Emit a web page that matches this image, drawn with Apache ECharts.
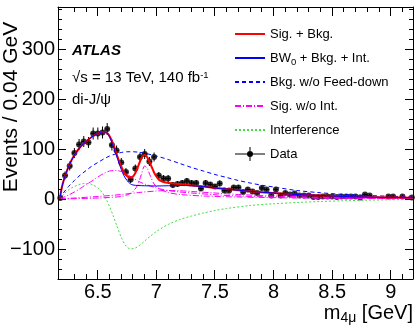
<!DOCTYPE html>
<html><head><meta charset="utf-8">
<script src="https://cdn.jsdelivr.net/npm/echarts@6/dist/echarts.min.js"></script>
<style>html,body{margin:0;padding:0;background:#fff}#c{width:420px;height:330px}</style>
</head><body><div id="c"></div>
<script>
// ---------------- data ----------------
const dataX = [6.18,6.22,6.26,6.30,6.34,6.38,6.42,6.46,6.50,6.54,6.58,6.62,6.66,6.70,6.74,6.78,6.82,6.86,6.90,6.94,
  6.98,7.02,7.06,7.10,7.14,7.18,7.22,7.26,7.30,7.34,7.38,7.42,7.46,7.50,7.54,7.58,7.62,7.66,7.70,7.74,
  7.78,7.82,7.86,7.90,7.94,7.98,8.02,8.06,8.10,8.14,8.18,8.22,8.26,8.30,8.34,8.38,8.42,8.46,8.50,8.54,
  8.58,8.62,8.66,8.70,8.74,8.78,8.82,8.86,8.90,8.94,8.98,9.02,9.06,9.10,9.14,9.18];
const dataY = [2,47,66,92,109,115,113,131,131,133,140,108,97,73,54,39,61,84,90,75,
  84,47,41,41,28,30,32,36,32,32,21,32,29,25,31,17,17,23,23,14,
  19,15,12,22,19,7,19,7,12,9,11,7,7,7,4,4,5,5,5,4,
  5,5,5,5,3,9,7,null,null,null,5,5,null,5,null,3];
const dataErr = [3,8,9,10,11,11,11,12,12,12,12,11,10,9,8,7,8,9,10,9,
  9,7,7,7,6,6,6,6,6,6,5,6,5,5,6,4,4,5,5,4,
  4,4,4,5,4,3,4,3,4,3,3,3,3,3,3,3,3,3,3,3,
  3,3,3,3,2,3,3,null,null,null,3,3,null,3,null,2];
const binHalfWidth = 0.02;

const sigBkgX = [6.175,6.19,6.20,6.22,6.26,6.30,6.34,6.38,6.42,6.46,6.50,6.54,6.56,6.58,6.60,6.62,6.64,6.66,6.68,6.70,
  6.72,6.74,6.76,6.78,6.80,6.82,6.84,6.86,6.88,6.90,6.92,6.94,6.96,6.98,7.00,7.02,7.04,7.08,7.14,7.20,
  7.30,7.40,7.50,7.60,7.70,7.80,7.90,8.00,8.20,8.40,8.60,8.80,9.00,9.19];
const sigBkgY = [0,20,30,46,70,88,101,111,119,126,131,134,134,132,126,116,104,90,77,65,
  55,48,44,43,45,52,63,75,85,88,84,75,64,53,45,39,36,33,31,30,
  27,25,22,20,17.5,15.5,13.5,12,9,7,5,4,3,2.5];

const bw0X = [6.175,6.19,6.20,6.22,6.26,6.30,6.34,6.38,6.42,6.46,6.50,6.54,6.56,6.58,6.60,6.62,6.64,6.66,6.68,6.70,
  6.72,6.74,6.76,6.78,6.80,6.84,6.90,7.00,7.10,7.20,7.30,7.40,7.50,7.60,7.70,7.80,7.90,8.00,8.20,8.40,
  8.60,8.80,9.00,9.19];
const bw0Y = [0,20,30,46,70,88,101,111,119,126,131,134,134,131,124,113,100,86,72,59,
  48,40,34,30,28,27,26.5,26,26.5,27,26.5,25,22,20,17.5,15.5,13.5,12,9,7,
  5,4,3,2.5];

const bkgX = [6.175,6.20,6.25,6.30,6.35,6.40,6.45,6.50,6.55,6.60,6.65,6.70,6.75,6.80,6.85,6.90,7.00,7.10,7.20,7.30,
  7.40,7.50,7.60,7.70,7.80,7.90,8.00,8.20,8.40,8.60,8.80,9.00,9.19];
const bkgY = [0,10,25,37,48,57,66,73,80,86,90,93,94.5,94.5,93.5,91.5,86,79,71,63,
  56,49,43,37,32,27.5,24,17,12.5,9,7,5.5,4.5];

const sig0X = [6.175,6.25,6.30,6.35,6.40,6.45,6.50,6.55,6.60,6.65,6.70,6.75,6.80,6.85,6.90,7.00,7.10,7.20,7.30,7.50,7.70,8.00,8.50,9.19];
const sig0Y = [0,8,14,21,29,36,44,51,56,57,55,49,42,35,30,22,17,14,12,8.5,6,4,2,1];
const sig1X = [6.175,6.50,6.70,6.76,6.80,6.84,6.87,6.90,6.92,6.95,6.98,7.02,7.10,7.20,7.40,7.70,8.20,9.19];
const sig1Y = [0,2,5,9,15,28,48,66,62,45,30,21,13,9,6,4,2,1];
const sig2X = [6.175,6.30,6.50,6.70,6.85,7.00,7.10,7.20,7.30,7.50,7.70,8.00,8.50,9.19];
const sig2Y = [0,2,5,9,13,16,17,16.5,15,12,9,6,3,1.5];

const intX = [6.175,6.22,6.26,6.30,6.34,6.38,6.42,6.46,6.50,6.54,6.57,6.60,6.63,6.66,6.70,6.74,6.78,6.82,6.86,6.90,
  6.95,7.00,7.10,7.20,7.30,7.40,7.50,7.60,7.80,8.00,8.20,8.40,8.60,8.80,9.00,9.19];
const intY = [0,12,20,25,29,31,31,28,22,12,0,-15,-33,-52,-77,-94,-100,-98,-92,-84,
  -74,-65,-51,-41,-34,-28,-23,-19,-13,-9.5,-7,-5,-3.5,-2.5,-1.5,-1];

const xRange = [6.16, 9.19];
const yRange = [-160, 384];
const xMajorTicks = [6.5, 7, 7.5, 8, 8.5, 9];
const xMinorTicks = [6.3,6.4,6.6,6.7,6.8,6.9,7.1,7.2,7.3,7.4,7.6,7.7,7.8,7.9,8.1,8.2,8.3,8.4,8.6,8.7,8.8,8.9,9.1];
const yMajorTicks = [-100, 0, 100, 200, 300];
const yMinorTicks = [-140,-120,-80,-60,-40,-20,20,40,60,80,120,140,160,180,220,240,260,280,320,340,360,380];
const legendNames = ['Sig. + Bkg.', 'BW0 + Bkg. + Int.', 'Bkg. w/o Feed-down', 'Sig. w/o Int.', 'Interference', 'Data'];

// ---------------- layout / style ----------------
const FONT = '"Liberation Sans", Arial, Helvetica, sans-serif';
const G = {left: 58, top: 7, width: 355, height: 272};
const BL = () => ({color: '#000', width: 1});

function ax(o) {
  return Object.assign({type: 'value', splitLine: {show: false},
    axisLine: {show: true, onZero: false, lineStyle: BL()},
    axisTick: {show: false}, axisLabel: {show: false}}, o);
}
const pairs = (xs, ys) => xs.map((x, i) => [x, ys[i]]);
function lineSeries(name, xs, ys, ls) {
  return {type: 'line', name, xAxisIndex: 0, yAxisIndex: 0, data: pairs(xs, ys), symbol: 'none', showSymbol: false,
    smooth: 0.3, lineStyle: ls, itemStyle: {color: ls.color}, emphasis: {disabled: true}, silent: true};
}
const crisp = v => Math.round(v - 0.5) + 0.5;

const magenta = {color: '#ff00ff', width: 1, type: [6, 2, 1, 2]};
const dataIcon = 'path://M0,6.5L30,6.5L30,7.5L0,7.5Z M14.5,0L15.5,0L15.5,14L14.5,14Z M12,7A3,3,0,1,1,18,7A3,3,0,1,1,12,7Z';

const errData = [];
const ptData = [];
dataX.forEach((x, i) => {
  if (dataY[i] === null) return;
  errData.push([x, dataY[i], dataErr[i]]);
  ptData.push([x, dataY[i]]);
});

const textGraphics = [
  {type: 'text', x: 11, y: 107, rotation: Math.PI / 2, silent: true,
    style: {text: 'Events / 0.04 GeV', font: '21px ' + FONT, fill: '#000', align: 'center', verticalAlign: 'middle'}},
  {type: 'text', x: 72, y: 51, silent: true,
    style: {text: 'ATLAS', font: 'italic bold 15px ' + FONT, fill: '#000', verticalAlign: 'middle'}},
  {type: 'text', x: 72, y: 78, silent: true,
    style: {text: '√s = 13 TeV, 140 fb{sup|-1}', font: '15px ' + FONT, fill: '#000', verticalAlign: 'middle', lineHeight: 16,
      rich: {sup: {fontSize: 9.5, lineHeight: 8, verticalAlign: 'top', fontFamily: FONT, fill: '#000'}}}},
  {type: 'text', x: 72, y: 100, silent: true,
    style: {text: 'di-J/ψ', font: '15px ' + FONT, fill: '#000', verticalAlign: 'middle'}}
];

const option = {
  animation: false,
  backgroundColor: '#fff',
  textStyle: {fontFamily: FONT},
  grid: [{left: G.left, top: G.top, width: G.width, height: G.height, outerBoundsMode: 'none'}],
  xAxis: [
    ax({gridIndex: 0, position: 'bottom', min: xRange[0], max: xRange[1],
      axisLabel: {show: true, fontSize: 20, color: '#000', fontFamily: FONT, margin: 3, showMinLabel: false, showMaxLabel: false},
      name: '{m|m}{s|4μ}{m| [GeV]}', nameLocation: 'end', nameGap: 0,
      nameTextStyle: {align: 'right', verticalAlign: 'top', padding: [22, 0, 0, 0],
        rich: {m: {fontSize: 20, lineHeight: 24, fontFamily: FONT, color: '#000'},
               s: {fontSize: 14, lineHeight: 10, verticalAlign: 'bottom', fontFamily: FONT, color: '#000'}}}}),
    ax({gridIndex: 0, position: 'top', min: xRange[0], max: xRange[1]})
  ],
  yAxis: [
    ax({gridIndex: 0, position: 'left', min: yRange[0], max: yRange[1],
      axisLabel: {show: true, fontSize: 20, color: '#000', fontFamily: FONT, margin: 3, showMinLabel: false, showMaxLabel: false,
        formatter: v => v < 0 ? '\u2212' + (-v) : String(v)}}),
    ax({gridIndex: 0, position: 'right', min: yRange[0], max: yRange[1]})
  ],
  legend: {
    orient: 'vertical', left: 229, top: 20, padding: 5, itemWidth: 30, itemHeight: 14, itemGap: 6,
    selectedMode: false,
    itemStyle: {opacity: 0},
    textStyle: {fontFamily: FONT, fontSize: 13, lineHeight: 18, color: '#000',
      rich: {sub: {fontSize: 9.5, lineHeight: 8, verticalAlign: 'bottom', fontFamily: FONT, color: '#000'}}},
    formatter: n => n === legendNames[1] ? 'BW{sub|0} + Bkg. + Int.' : n,
    data: [
      {name: legendNames[0]}, {name: legendNames[1]}, {name: legendNames[2]}, {name: legendNames[3]}, {name: legendNames[4]},
      {name: legendNames[5], icon: dataIcon, itemStyle: {opacity: 1, color: '#000'}}
    ]
  },
  graphic: {elements: textGraphics},
  series: [
    lineSeries(legendNames[4], intX, intY, {color: '#44dd44', width: 1, type: [2, 2]}),
    lineSeries(legendNames[3], sig0X, sig0Y, magenta),
    lineSeries(legendNames[3], sig1X, sig1Y, magenta),
    lineSeries(legendNames[3], sig2X, sig2Y, magenta),
    lineSeries(legendNames[2], bkgX, bkgY, {color: '#0000ff', width: 1, type: [4, 3]}),
    lineSeries(legendNames[0], sigBkgX, sigBkgY, {color: '#ff0000', width: 2, type: 'solid'}),
    lineSeries(legendNames[1], bw0X, bw0Y, {color: '#0000ff', width: 1, type: 'solid'}),
    {type: 'custom', name: legendNames[5], xAxisIndex: 0, yAxisIndex: 0, data: errData, silent: true,
      itemStyle: {color: '#000'}, encode: {x: 0, y: 1},
      renderItem: (params, api) => {
        const x = api.value(0), y = api.value(1), e = api.value(2);
        const t = api.coord([x, y + e]), b = api.coord([x, y - e]);
        const l = api.coord([x - binHalfWidth, y]), r = api.coord([x + binHalfWidth, y]);
        return {type: 'group', children: [
          {type: 'line', shape: {x1: t[0], y1: t[1], x2: b[0], y2: b[1]}, style: {stroke: '#000', lineWidth: 1}},
          {type: 'line', shape: {x1: l[0], y1: l[1], x2: r[0], y2: r[1]}, style: {stroke: '#000', lineWidth: 1}}
        ]};
      }},
    {type: 'scatter', name: legendNames[5], xAxisIndex: 0, yAxisIndex: 0, data: ptData, symbol: 'circle', symbolSize: 6,
      itemStyle: {color: '#000'}, silent: true}
  ]
};
const chart = echarts.init(document.getElementById('c'), null, {renderer: 'canvas'});
chart.setOption(option);

// ROOT-style frame ticks on all four sides, positioned through the chart's own axis scales
const finder = {xAxisIndex: 0, yAxisIndex: 0};
const tickEls = [];
function tickLine(x1, y1, x2, y2) {
  return {type: 'line', silent: true, z: 100, shape: {x1, y1, x2, y2}, style: {stroke: '#000', lineWidth: 1}};
}
function addXTicks(vals, len) {
  vals.forEach(v => {
    const b = chart.convertToPixel(finder, [v, yRange[0]]);
    const t = chart.convertToPixel(finder, [v, yRange[1]]);
    const x = crisp(b[0]);
    tickEls.push(tickLine(x, b[1], x, b[1] - len), tickLine(x, t[1], x, t[1] + len));
  });
}
function addYTicks(vals, len) {
  vals.forEach(v => {
    const l = chart.convertToPixel(finder, [xRange[0], v]);
    const r = chart.convertToPixel(finder, [xRange[1], v]);
    const y = crisp(l[1]);
    tickEls.push(tickLine(l[0], y, l[0] + len, y), tickLine(r[0], y, r[0] - len, y));
  });
}
addXTicks(xMajorTicks, 9);
addXTicks(xMinorTicks, 5);
addYTicks(yMajorTicks, 8);
addYTicks(yMinorTicks, 4);
chart.setOption({graphic: {elements: textGraphics.concat(tickEls)}});
</script></body></html>
